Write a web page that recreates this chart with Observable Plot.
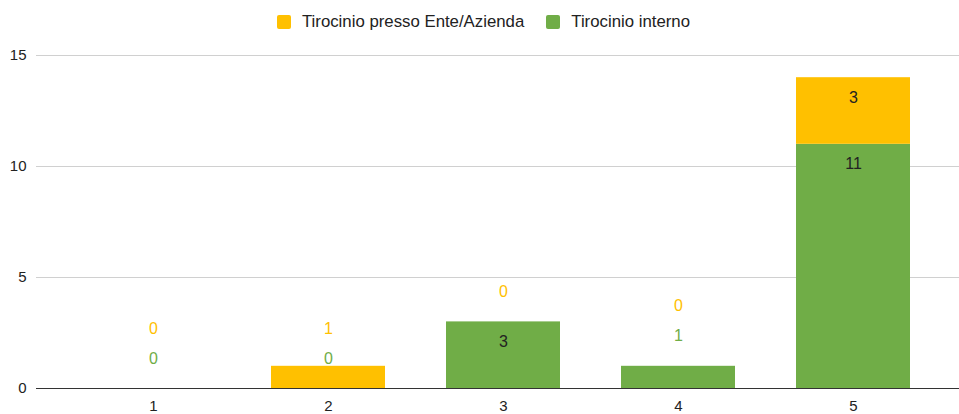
<!DOCTYPE html>
<html>
<head>
<meta charset="utf-8">
<script src="https://cdn.jsdelivr.net/npm/d3@7"></script>
<script src="https://cdn.jsdelivr.net/npm/@observablehq/plot@0.6"></script>
<style>
  html, body { margin: 0; padding: 0; background: #fff; overflow: hidden; }
  body { width: 959px; height: 414px; font-family: "Liberation Sans", Arial, sans-serif; }
  #legend { height: 36px; padding-top: 4px; display: flex; align-items: center; justify-content: center;
            font-size: 16.8px; color: #222; padding-left: 8px; }
  .item { display: flex; align-items: center; }
  .sw { width: 14px; height: 14px; border-radius: 2px; margin-right: 11px; }
  .item + .item { margin-left: 22px; }
</style>
</head>
<body>
<div id="legend"></div>
<div id="chart"></div>
<script>
// ---- data ----
const categories = ["1", "2", "3", "4", "5"];
const seriesNames = ["Tirocinio presso Ente/Azienda", "Tirocinio interno"];
const enteValues = [0, 1, 0, 0, 3];
const internoValues = [0, 0, 3, 1, 11];
const yTicks = [0, 5, 10, 15];
const seriesColors = ["#FFC000", "#70AD47"];

// ---- layout ----
const W = 959, H = 374, mt = 15, mb = 26, ml = 36, mr = 0;
const yDomain = [0, 15];

// stack order: interno at bottom, ente on top
const stackOrder = ["Tirocinio interno", "Tirocinio presso Ente/Azienda"];
const valuesBySeries = {
  "Tirocinio presso Ente/Azienda": enteValues,
  "Tirocinio interno": internoValues
};
const colorOf = Object.fromEntries(seriesNames.map((s, i) => [s, seriesColors[i]]));

const rows = categories.flatMap((c, i) =>
  stackOrder.map(s => ({cat: c, series: s, value: valuesBySeries[s][i]})));

// label placement (inside near top when the segment is tall, otherwise above, avoiding overlap)
const yS = Plot.scale({y: {domain: yDomain, range: [H - mb, mt]}});
const labels = [];
categories.forEach((c, i) => {
  let base = 0, prevOut = Infinity;
  stackOrder.forEach(s => {
    const v = valuesBySeries[s][i];
    const top = base + v;
    const topPx = yS.apply(top);
    const segPx = yS.apply(base) - topPx;
    let p, col;
    if (segPx >= 40) {
      p = topPx + 20; col = "#222";
    } else {
      p = topPx - 30;
      if (p > prevOut - 30) p = prevOut - 30;
      prevOut = p;
      col = colorOf[s];
    }
    labels.push({cat: c, y: yS.invert(p), text: String(v), color: col});
    base = top;
  });
});

// ---- legend ----
const legend = document.getElementById("legend");
seriesNames.forEach((s, i) => {
  const it = document.createElement("div");
  it.className = "item";
  const sw = document.createElement("div");
  sw.className = "sw";
  sw.style.background = seriesColors[i];
  const tx = document.createElement("span");
  tx.textContent = s;
  it.appendChild(sw); it.appendChild(tx);
  legend.appendChild(it);
});

// ---- chart ----
const labelColors = Array.from(new Set(labels.map(d => d.color)));
const chart = Plot.plot({
  width: W, height: H,
  marginTop: mt, marginBottom: mb, marginLeft: ml, marginRight: mr,
  style: {fontFamily: "'Liberation Sans', Arial, sans-serif", fontSize: "15px", color: "#222", background: "#fff"},
  x: {domain: categories, paddingInner: 0.35, paddingOuter: 0.175, insetLeft: 29.5, insetRight: 18.5, label: null},
  y: {domain: yDomain, label: null},
  color: {domain: seriesNames, range: seriesColors},
  marks: [
    Plot.ruleY(yTicks.filter(d => d > 0), {stroke: "#d0d0d0", strokeWidth: 1}),
    Plot.barY(rows, {x: "cat", y: "value", fill: "series", order: stackOrder}),
    Plot.ruleY([0], {stroke: "#333", strokeWidth: 1}),
    Plot.axisY({ticks: yTicks, tickSize: 0, tickPadding: 10, label: null, fill: "#222"}),
    Plot.axisX({tickSize: 0, tickPadding: 12, label: null, fill: "#222"}),
    ...labelColors.map(col =>
      Plot.text(labels.filter(d => d.color === col), {x: "cat", y: "y", text: "text", fill: col, fontSize: 16}))
  ]
});
document.getElementById("chart").appendChild(chart);
</script>
</body>
</html>
